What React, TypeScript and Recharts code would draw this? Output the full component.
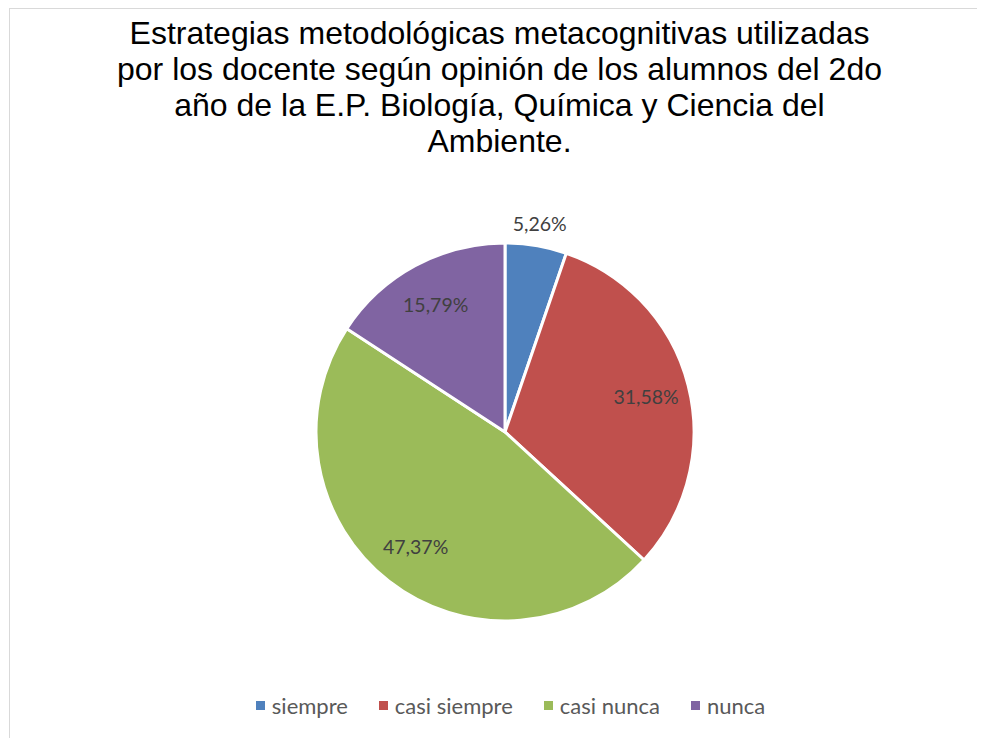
import React from 'react';
import { PieChart, Pie, Cell, Legend } from 'recharts';

const categories = ['siempre', 'casi siempre', 'casi nunca', 'nunca'];
const percents = [5.26, 31.58, 47.37, 15.79];
const colors = ['#4F81BD', '#C0504D', '#9BBB59', '#8064A2'];
const titleLines = [
  'Estrategias metodológicas metacognitivas utilizadas',
  'por los docente según opinión de los alumnos del 2do',
  'año de la E.P. Biología, Química y Ciencia del',
  'Ambiente.',
];

const data = categories.map((name, i) => ({ name, value: percents[i] }));

const RAD = Math.PI / 180;

const renderLabel = (props: any) => {
  const { cx, cy, midAngle, outerRadius, index, value } = props;
  // small slice gets its label outside, the rest sit inside
  const r = index === 0 ? outerRadius + 22 : outerRadius * 0.77;
  const x = cx + r * Math.cos(-midAngle * RAD);
  const y = cy + r * Math.sin(-midAngle * RAD);
  return (
    <text x={x} y={y} fill="#404040" fontSize={19.5} fontFamily="Lato, sans-serif" textAnchor="middle" dominantBaseline="central">
      {value.toFixed(2).replace('.', ',')}%
    </text>
  );
};

const renderLegend = () => (
  <div style={{ display: 'flex', justifyContent: 'center', gap: 31, paddingLeft: 28, fontFamily: 'Lato, sans-serif', fontSize: 22, color: '#595959' }}>
    {categories.map((c, i) => (
      <div key={c} style={{ display: 'flex', alignItems: 'center' }}>
        <span style={{ display: 'inline-block', width: 9, height: 9, background: colors[i], marginRight: 7 }} />
        <span>{c}</span>
      </div>
    ))}
  </div>
);

export default function App() {
  return (
    <div style={{ position: 'relative', width: 977, height: 730, overflow: 'hidden', background: '#fff' }}>
      <div style={{ position: 'absolute', left: 1, top: 0, width: 1100, height: 900, border: '1px solid #d9d9d9', boxSizing: 'border-box' }} />
      <div style={{ position: 'absolute', left: 0, top: 7, width: 983, textAlign: 'center', fontFamily: 'Liberation Sans, Arial, sans-serif', fontSize: 32, lineHeight: '36px', color: '#000' }}>
        {titleLines.map((l) => (
          <div key={l}>{l}</div>
        ))}
      </div>
      <div style={{ position: 'absolute', left: 0, top: 0 }}>
        <PieChart width={977} height={730}>
          <Pie
            data={data}
            dataKey="value"
            nameKey="name"
            cx={492}
            cy={419}
            outerRadius={189}
            startAngle={90}
            endAngle={-270}
            stroke="#fff"
            strokeWidth={3}
            label={renderLabel}
            labelLine={false}
            isAnimationActive={false}
          >
            {data.map((d, i) => (
              <Cell key={d.name} fill={colors[i]} />
            ))}
          </Pie>
          <Legend content={renderLegend} verticalAlign="bottom" wrapperStyle={{ bottom: 19, left: 0, width: 977 }} />
        </PieChart>
      </div>
    </div>
  );
}
